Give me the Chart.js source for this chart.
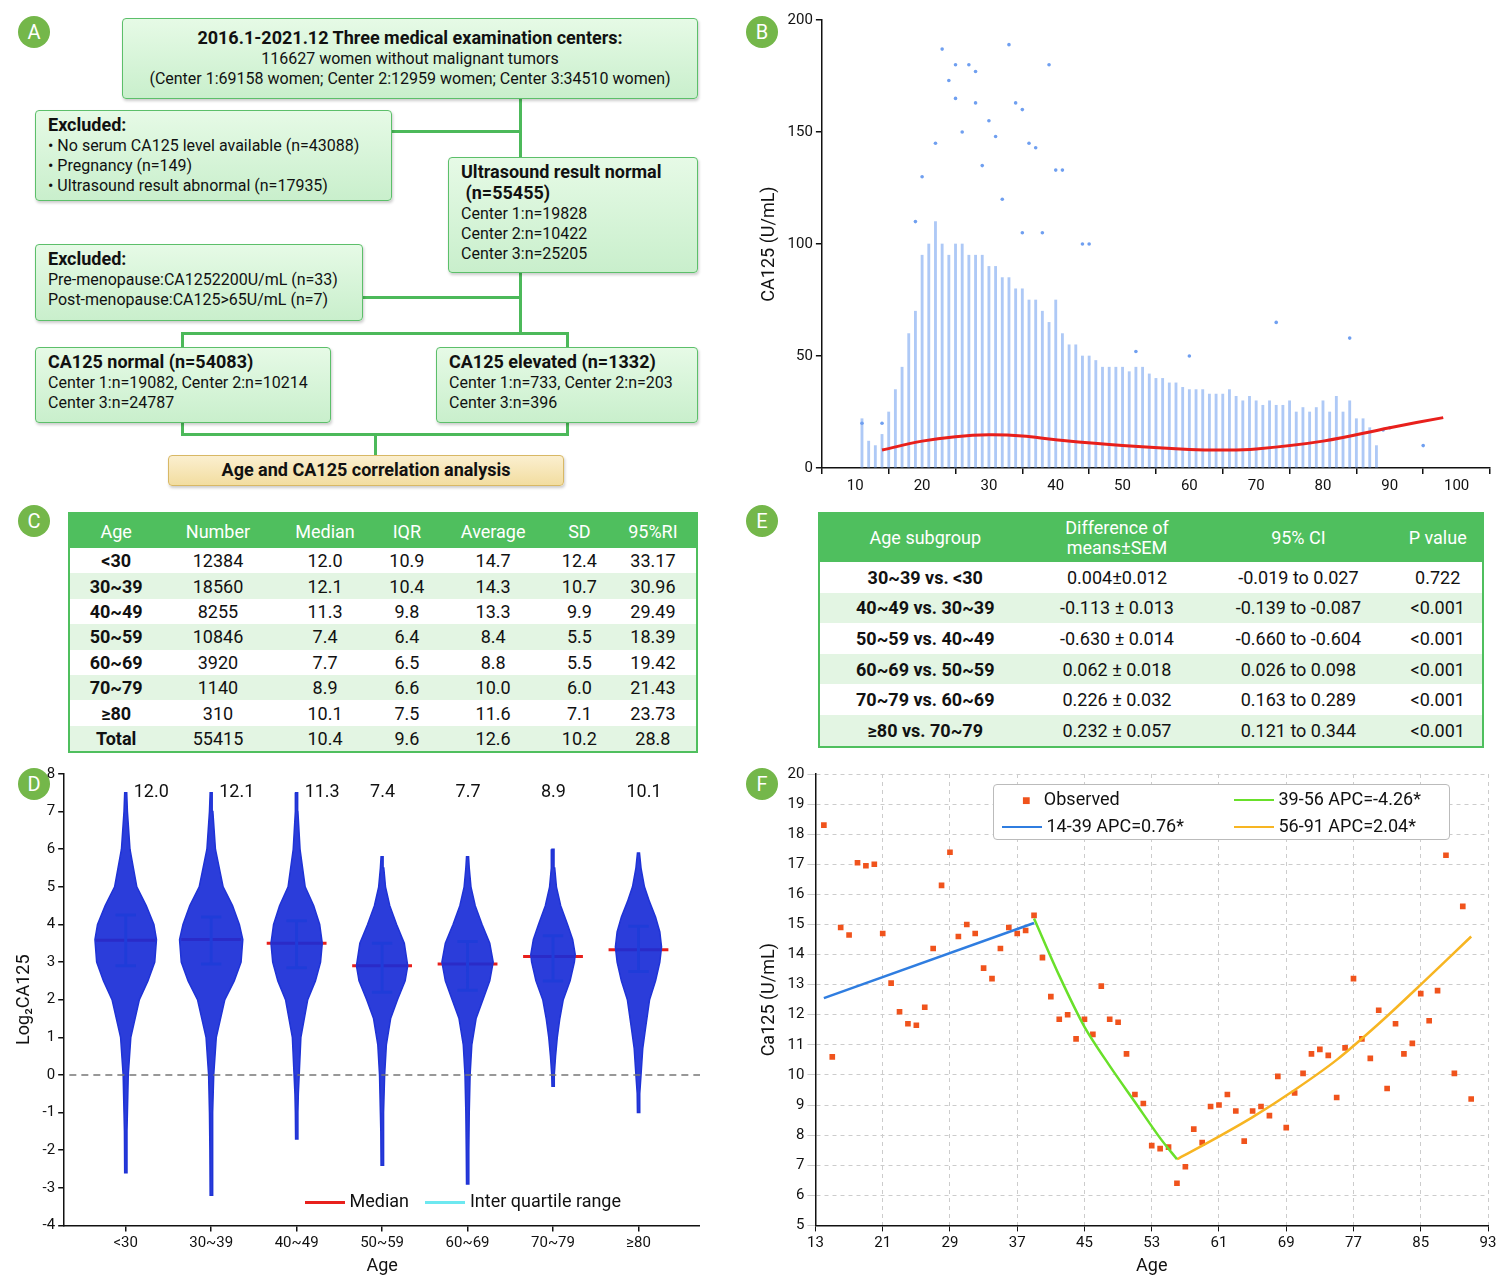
<!DOCTYPE html>
<html><head><meta charset="utf-8">
<script src="https://cdn.jsdelivr.net/npm/chart.js@4.4.1/dist/chart.umd.min.js"></script>
<style>
body{margin:0;width:1507px;height:1285px;background:#fff;font-family:Roboto,"Noto Sans",sans-serif;position:relative;overflow:hidden;color:#111}
.abs{position:absolute}
.tag{position:absolute;width:32px;height:32px;border-radius:50%;background:#74b74a;color:#fff;font-size:20px;text-align:center;line-height:32px}
.box{position:absolute;box-sizing:border-box;border:1.5px solid #5cbf6a;border-radius:4px;background:linear-gradient(#e6fae6,#c9efcc);padding:4px 12px;font-size:16px;line-height:20px;box-shadow:1px 2px 3px rgba(0,0,0,.2)}
.box b{font-size:18px}
.ln{position:absolute;background:#4cb95a}
table{border-collapse:collapse;position:absolute;font-size:18px;text-align:center}
table th{background:#4fbf5e;color:#fff;font-weight:normal;padding:0}
table td{padding:0;height:25.4px}
table tr:nth-child(odd) td{background:#e3f5e3}
.tb{border:2px solid #4fbf5e}
.leg{position:absolute;font-size:18px;background:#fff}
</style></head><body>
<div class="tag" style="left:18px;top:16px">A</div>
<div class="tag" style="left:746px;top:16px">B</div>
<div class="tag" style="left:18px;top:505px">C</div>
<div class="tag" style="left:746px;top:505px">E</div>
<div class="tag" style="left:18px;top:768px">D</div>
<div class="tag" style="left:746px;top:768px">F</div>

<!-- flow chart -->
<div class="ln" style="left:519px;top:98px;width:3px;height:60px"></div>
<div class="ln" style="left:391px;top:130px;width:130px;height:3px"></div>
<div class="ln" style="left:519px;top:272px;width:3px;height:62px"></div>
<div class="ln" style="left:362px;top:296px;width:159px;height:3px"></div>
<div class="ln" style="left:181px;top:332px;width:388px;height:3px"></div>
<div class="ln" style="left:181px;top:332px;width:3px;height:16px"></div>
<div class="ln" style="left:566px;top:332px;width:3px;height:16px"></div>
<div class="ln" style="left:181px;width:388px;height:3px;top:433px"></div>
<div class="ln" style="left:181px;top:421px;width:3px;height:14px"></div>
<div class="ln" style="left:566px;top:421px;width:3px;height:14px"></div>
<div class="ln" style="left:374px;top:435px;width:3px;height:21px"></div>
<div class="box" style="left:122px;top:18px;width:576px;height:81px;text-align:center;padding-top:9px"><b>2016.1-2021.12 Three medical examination centers:</b><br>116627 women without malignant tumors<br>(Center 1:69158 women; Center 2:12959 women; Center 3:34510 women)</div>
<div class="box" style="left:35px;top:110px;width:357px;height:91px"><b>Excluded:</b><br>• No serum CA125 level available (n=43088)<br>• Pregnancy (n=149)<br>• Ultrasound result abnormal (n=17935)</div>
<div class="box" style="left:448px;top:157px;width:250px;height:116px"><b>Ultrasound result normal<br>&nbsp;(n=55455)</b><br>Center 1:n=19828<br>Center 2:n=10422<br>Center 3:n=25205</div>
<div class="box" style="left:35px;top:244px;width:328px;height:77px"><b>Excluded:</b><br>Pre-menopause:CA1252200U/mL (n=33)<br>Post-menopause:CA125&gt;65U/mL (n=7)</div>
<div class="box" style="left:35px;top:347px;width:296px;height:76px"><b>CA125 normal (n=54083)</b><br>Center 1:n=19082, Center 2:n=10214<br>Center 3:n=24787</div>
<div class="box" style="left:436px;top:347px;width:262px;height:76px"><b>CA125 elevated (n=1332)</b><br>Center 1:n=733, Center 2:n=203<br>Center 3:n=396</div>
<div class="box" style="left:168px;top:455px;width:396px;height:31px;text-align:center;background:linear-gradient(#fbefcf,#f2dda0);border-color:#d8b865"><b>Age and CA125 correlation analysis</b></div>

<table class="tb" id="tc" style="left:68px;top:512px;width:630px"></table>
<table class="tb" id="te" style="left:818px;top:512px;width:666px"></table>

<div class="abs" style="left:755px;top:8px;width:745px;height:490px"><canvas id="cb"></canvas></div>
<div class="abs" style="left:10px;top:762px;width:690px;height:515px"><canvas id="cd"></canvas></div>
<div class="abs" style="left:755px;top:762px;width:745px;height:515px"><canvas id="cf"></canvas></div>

<div class="leg" style="left:305px;top:1190px;background:none">
<span style="display:inline-block;width:40px;height:3px;background:#e8201c;vertical-align:middle"></span> Median
<span style="display:inline-block;width:40px;height:3px;background:#6de8f0;vertical-align:middle;margin-left:12px"></span> Inter quartile range</div>
<div class="leg" style="left:993px;top:784px;width:455px;height:54px;border:1.5px solid #bbb;border-radius:4px;line-height:27px;font-size:18px">
<div class="abs" style="left:28px;top:0"><span style="color:#f0531c;font-size:14px">■</span>&nbsp;&nbsp; Observed</div>
<div class="abs" style="left:8px;top:27px"><span style="display:inline-block;width:40px;height:2px;background:#2f7de0;vertical-align:middle"></span> 14-39 APC=0.76*</div>
<div class="abs" style="left:240px;top:0"><span style="display:inline-block;width:40px;height:2px;background:#69e02a;vertical-align:middle"></span> 39-56 APC=-4.26*</div>
<div class="abs" style="left:240px;top:27px"><span style="display:inline-block;width:40px;height:2px;background:#f7b522;vertical-align:middle"></span> 56-91 APC=2.04*</div>
</div>

<script>
// ---- table C ----
const tcHead = ['Age','Number','Median','IQR','Average','SD','95%RI'];
const tcAge = ['<30','30~39','40~49','50~59','60~69','70~79','≥80','Total'];
const tcNumber = ['12384','18560','8255','10846','3920','1140','310','55415'];
const tcMedian = ['12.0','12.1','11.3','7.4','7.7','8.9','10.1','10.4'];
const tcIQR = ['10.9','10.4','9.8','6.4','6.5','6.6','7.5','9.6'];
const tcAvg = ['14.7','14.3','13.3','8.4','8.8','10.0','11.6','12.6'];
const tcSD = ['12.4','10.7','9.9','5.5','5.5','6.0','7.1','10.2'];
const tcRI = ['33.17','30.96','29.49','18.39','19.42','21.43','23.73','28.8'];

// ---- table E ----
const teHead = ['Age subgroup','Difference of<br>means±SEM','95% CI','P value'];
const teGroup = ['30~39 vs. <30','40~49 vs. 30~39','50~59 vs. 40~49','60~69 vs. 50~59','70~79 vs. 60~69','≥80 vs. 70~79'];
const teDiff = ['0.004±0.012','-0.113 ± 0.013','-0.630 ± 0.014','0.062 ± 0.018','0.226 ± 0.032','0.232 ± 0.057'];
const teCI = ['-0.019 to 0.027','-0.139 to -0.087','-0.660 to -0.604','0.026 to 0.098','0.163 to 0.289','0.121 to 0.344'];
const teP = ['0.722','<0.001','<0.001','<0.001','<0.001','<0.001'];

// ---- panel B ----
const bAges = [];
for (let a = 11; a <= 88; a++) bAges.push(a);
const bTop = [22,12,10,15,25,35,45,60,70,95,100,110,100,95,100,100,95,95,95,90,90,85,85,80,80,75,75,70,65,75,60,55,55,50,50,48,45,45,45,45,43,45,45,42,40,40,38,38,36,35,35,35,33,33,33,35,32,30,32,30,28,30,28,28,30,25,27,25,27,30,25,32,25,30,22,22,18,10];
const bOutX = [23,25,27,28,33,39,24,25,28,30,31,34,35,36,37,40,41,22,19,20,35,44,38,45,73,84,95,89,90,52,60,14,11,26,29,32];
const bOutY = [187,180,180,177,189,180,173,165,163,155,148,163,160,145,143,133,133,145,110,130,105,100,105,100,65,58,10,17,18,52,50,20,20,150,135,120];
const bFitX = [14,20,25,30,35,40,50,60,65,70,80,90,98];
const bFitY = [8,12,14,14.8,14.3,12.6,10,8.3,8,8.5,12,18,22.5];

// ---- panel D ----
const dGroups = ['<30','30~39','40~49','50~59','60~69','70~79','≥80'];
const dMedLabel = ['12.0','12.1','11.3','7.4','7.7','8.9','10.1'];
const dMedian = [3.58,3.6,3.5,2.9,2.95,3.15,3.33];
const dQ1 = [2.9,2.95,2.85,2.2,2.25,2.5,2.75];
const dQ3 = [4.25,4.2,4.1,3.5,3.55,3.7,3.95];
const dLevels = [
  [-2.6,-1.5,-1,0,1,2,2.5,3,3.6,4,4.5,5,6,7,7.5],
  [-3.2,-2,-1,0,1,2,2.5,3,3.6,4,4.5,5,6,7,7.5],
  [-1.7,-1,-0.5,0,1,2,2.5,3,3.5,4,4.5,5,6,7,7.5],
  [-2.4,-1.5,-1,0,0.8,1.5,2,2.5,2.9,3.5,4,4.5,5,5.5,5.8],
  [-2.9,-2,-1,0,0.8,1.5,2,2.5,3,3.5,4,4.5,5,5.5,5.8],
  [-0.3,0,0.5,1,1.5,2,2.5,3,3.2,3.6,4,4.5,5,5.5,6],
  [-1,-0.5,0,0.7,1.2,2,2.5,3,3.4,3.8,4.2,4.6,5,5.5,5.9]
];
const dWidths = [
  [0.012,0.015,0.02,0.03,0.06,0.16,0.26,0.34,0.36,0.33,0.24,0.13,0.05,0.02,0.012],
  [0.012,0.015,0.02,0.03,0.06,0.16,0.27,0.35,0.37,0.33,0.25,0.14,0.05,0.02,0.012],
  [0.012,0.015,0.02,0.03,0.05,0.13,0.22,0.28,0.3,0.27,0.2,0.1,0.04,0.015,0.012],
  [0.012,0.015,0.02,0.03,0.05,0.1,0.18,0.27,0.3,0.26,0.17,0.09,0.04,0.02,0.012],
  [0.012,0.015,0.02,0.03,0.05,0.1,0.18,0.26,0.3,0.26,0.17,0.09,0.04,0.02,0.012],
  [0.012,0.015,0.03,0.05,0.08,0.12,0.2,0.25,0.26,0.23,0.17,0.09,0.04,0.02,0.012],
  [0.012,0.015,0.03,0.05,0.08,0.13,0.2,0.25,0.27,0.25,0.2,0.13,0.07,0.03,0.012]
];

// ---- panel F ----
const fAge = [];
for (let a = 14; a <= 91; a++) fAge.push(a);
const fObs = [18.3,10.6,14.9,14.65,17.05,16.95,17.0,14.7,13.05,12.1,11.7,11.65,12.25,14.2,16.3,17.4,14.6,15.0,14.7,13.55,13.2,14.2,14.9,14.7,14.8,15.3,13.9,12.6,11.85,12.0,11.2,11.85,11.35,12.95,11.85,11.75,10.7,9.35,9.05,7.65,7.55,7.6,6.4,6.95,8.2,7.75,8.95,9.0,9.35,8.8,7.8,8.8,8.95,8.65,9.95,8.25,9.4,10.05,10.7,10.85,10.65,9.25,10.9,13.2,11.2,10.55,12.15,9.55,11.7,10.7,11.05,12.7,11.8,12.8,17.3,10.05,15.6,9.2];
const seg1X = [14,39], seg1Y = [12.55,15.05];
const seg2X = [39,42,45,48,51,54,56], seg2Y = [15.2,13.3,11.6,10.3,9.1,7.9,7.2];
const seg3X = [56,60,65,70,75,80,85,91], seg3Y = [7.2,7.8,8.6,9.5,10.5,11.7,13.0,14.6];

// build tables
document.getElementById('tc').innerHTML =
  '<tr>' + tcHead.map(h => `<th style="height:34px">${h}</th>`).join('') + '</tr>' +
  tcAge.map((a, i) => `<tr><td><b>${a.replace('<','&lt;')}</b></td><td>${tcNumber[i]}</td><td>${tcMedian[i]}</td><td>${tcIQR[i]}</td><td>${tcAvg[i]}</td><td>${tcSD[i]}</td><td>${tcRI[i]}</td></tr>`).join('');
document.getElementById('te').innerHTML =
  '<tr>' + teHead.map(h => `<th style="height:48px;line-height:20px">${h}</th>`).join('') + '</tr>' +
  teGroup.map((g, i) => `<tr><td style="height:30.6px"><b>${g.replace(/</g,'&lt;')}</b></td><td>${teDiff[i]}</td><td>${teCI[i]}</td><td>${teP[i]}</td></tr>`).join('');

Chart.defaults.font.family = 'Roboto, "Noto Sans", sans-serif';
Chart.defaults.color = '#111';
Chart.defaults.animation = false;
const axisBase = {border: {color: '#111', width: 1.5}, ticks: {font: {size: 15}, color: '#111'}};
const tickOnly = {display: true, drawOnChartArea: false, color: '#111', tickLength: 6, lineWidth: 1.5};

// B
new Chart(document.getElementById('cb'), {
  type: 'bar',
  data: {datasets: [
    {type: 'line', data: bFitX.map((x, i) => ({x, y: bFitY[i]})), borderColor: '#e8201c', borderWidth: 3, pointRadius: 0, tension: 0.4},
    {type: 'scatter', data: bOutX.map((x, i) => ({x, y: bOutY[i]})), backgroundColor: '#6f9ff0', pointRadius: 1.8, borderWidth: 0},
    {data: bAges.map((x, i) => ({x, y: [0, bTop[i]]})), backgroundColor: 'rgba(120,165,240,0.6)', barThickness: 2.2}
  ]},
  options: {responsive: true, maintainAspectRatio: false, plugins: {legend: {display: false}, tooltip: {enabled: false}},
    layout: {padding: {right: 10, top: 8}},
    scales: {
      x: {...axisBase, type: 'linear', min: 10, max: 100, grid: tickOnly, ticks: {...axisBase.ticks, stepSize: 10}},
      y: {...axisBase, min: 0, max: 200, grid: tickOnly, ticks: {...axisBase.ticks, stepSize: 50}, title: {display: true, text: 'CA125 (U/mL)', font: {size: 18}}}
    }}
});

// D
const violinSets = dGroups.map((g, gi) => {
  const lv = dLevels[gi], w = dWidths[gi];
  const right = lv.map((y, i) => ({x: gi + w[i], y}));
  const left = lv.map((y, i) => ({x: gi - w[i], y})).reverse();
  return {type: 'scatter', showLine: true, data: right.concat(left, [right[0]]), borderColor: '#1f33d6', backgroundColor: 'rgba(25,45,215,0.92)', fill: 'shape', pointRadius: 0, borderWidth: 1.5};
});
const medData = [], iqrData = [];
dGroups.forEach((g, i) => {
  medData.push({x: i - 0.35, y: dMedian[i]}, {x: i + 0.35, y: dMedian[i]}, {x: i, y: null});
  iqrData.push({x: i - 0.12, y: dQ1[i]}, {x: i + 0.12, y: dQ1[i]}, {x: i, y: null},
    {x: i - 0.12, y: dQ3[i]}, {x: i + 0.12, y: dQ3[i]}, {x: i, y: null},
    {x: i, y: dQ1[i]}, {x: i, y: dQ3[i]}, {x: i, y: null});
});
const dLabelPlugin = {id: 'dlab', afterDatasetsDraw(c) {
  const {ctx, scales: {x, y}} = c;
  ctx.save(); ctx.font = '18px Roboto'; ctx.fillStyle = '#111'; ctx.textAlign = 'left';
  dMedLabel.forEach((t, i) => ctx.fillText(t, x.getPixelForValue(i) + (i < 3 ? 8 : -12), y.getPixelForValue(7.4)));
  ctx.restore();
}};
new Chart(document.getElementById('cd'), {
  type: 'scatter',
  data: {datasets: [
    {showLine: true, data: [{x: -0.8, y: 0}, {x: 6.8, y: 0}], borderColor: '#777', borderDash: [7, 5], borderWidth: 1.5, pointRadius: 0},
    ...violinSets,
    {showLine: true, spanGaps: false, data: iqrData, borderColor: '#6de8f0', borderWidth: 3, pointRadius: 0},
    {showLine: true, spanGaps: false, data: medData, borderColor: '#e8201c', borderWidth: 3, pointRadius: 0}
  ]},
  plugins: [dLabelPlugin],
  options: {responsive: true, maintainAspectRatio: false, plugins: {legend: {display: false}, tooltip: {enabled: false}},
    scales: {
      x: {...axisBase, min: -0.72, max: 6.72, grid: tickOnly, afterBuildTicks: s => { s.ticks = dGroups.map((g, i) => ({value: i})); },
        ticks: {...axisBase.ticks, callback: v => dGroups[v]}, title: {display: true, text: 'Age', font: {size: 18}, padding: 0}},
      y: {...axisBase, min: -4, max: 8, grid: tickOnly, ticks: {...axisBase.ticks, stepSize: 1}, title: {display: true, text: 'Log\u2082CA125', font: {size: 18}}}
    }}
});

// F
new Chart(document.getElementById('cf'), {
  type: 'scatter',
  data: {datasets: [
    {showLine: true, data: seg1X.map((x, i) => ({x, y: seg1Y[i]})), borderColor: '#2f7de0', borderWidth: 2.5, pointRadius: 0},
    {showLine: true, data: seg2X.map((x, i) => ({x, y: seg2Y[i]})), borderColor: '#69e02a', borderWidth: 2.5, pointRadius: 0, tension: 0.3},
    {showLine: true, data: seg3X.map((x, i) => ({x, y: seg3Y[i]})), borderColor: '#f7b522', borderWidth: 2.5, pointRadius: 0, tension: 0.3},
    {data: fAge.map((x, i) => ({x, y: fObs[i]})), pointStyle: 'rect', pointRadius: 4, backgroundColor: '#f0531c', borderWidth: 0}
  ]},
  options: {responsive: true, maintainAspectRatio: false, plugins: {legend: {display: false}, tooltip: {enabled: false}},
    layout: {padding: {right: 12}},
    scales: {
      x: {...axisBase, min: 13, max: 93, grid: {color: '#ccc', tickColor: '#111', tickLength: 6}, border: {color: '#111', width: 1.5, dash: [4, 4]},
        ticks: {...axisBase.ticks, stepSize: 8}, title: {display: true, text: 'Age', font: {size: 18}, padding: 0}},
      y: {...axisBase, min: 5, max: 20, grid: {color: '#ccc'}, border: {color: '#111', width: 1.5, dash: [4, 4]},
        ticks: {...axisBase.ticks, stepSize: 1}, title: {display: true, text: 'Ca125 (U/mL)', font: {size: 18}}}
    }}
});
</script>
</body></html>
